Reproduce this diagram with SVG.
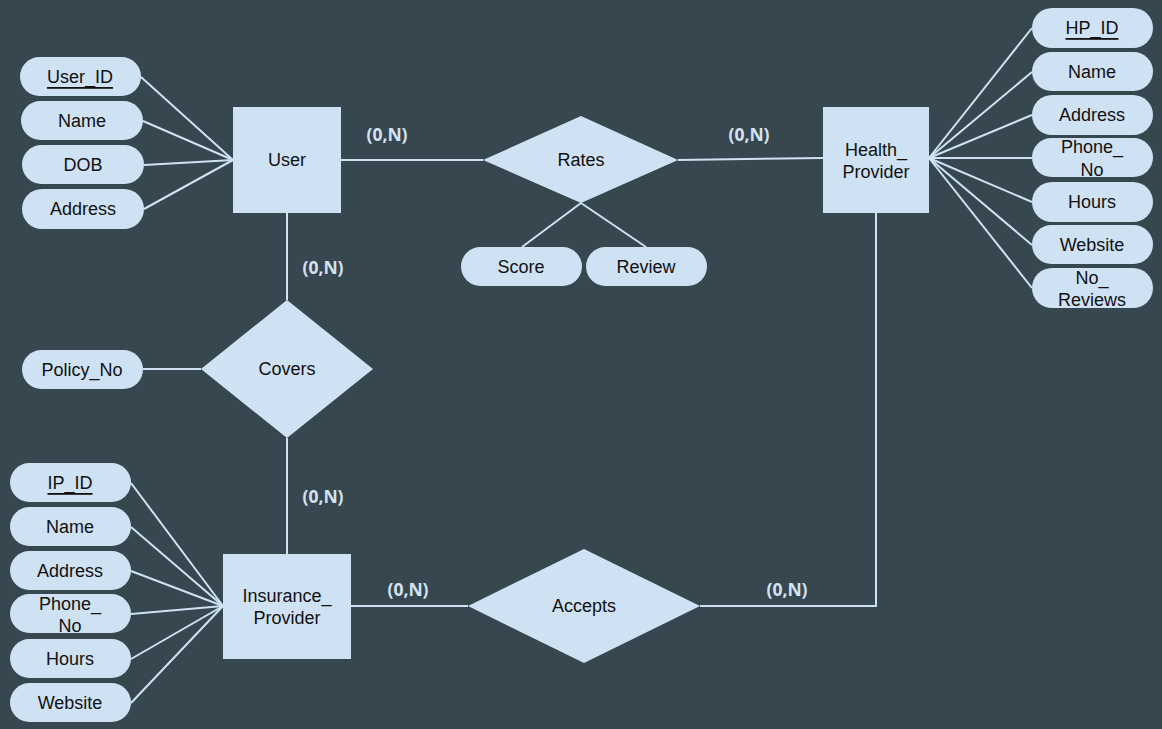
<svg xmlns="http://www.w3.org/2000/svg" width="1162" height="729" viewBox="0 0 1162 729">
<style>
.bg{fill:#37474f}
.ent,.rel,.att{fill:#cfe2f3}
.t{font-family:"Liberation Sans",Arial,sans-serif;font-size:18px;fill:#111;text-anchor:middle;dominant-baseline:central}
.k{text-decoration:underline}
.c{font-family:"Open Sans","Liberation Sans",sans-serif;font-weight:bold;font-size:17.5px;fill:#d3e2f0;text-anchor:middle;dominant-baseline:central}
#connectors line,#connectors polyline{stroke:#cfe2f3;stroke-width:2;fill:none}
</style>
<rect class="bg" x="0" y="0" width="1162" height="729"/>
<g id="connectors">
<line x1="141" y1="77" x2="233" y2="160"/>
<line x1="143" y1="121" x2="233" y2="160"/>
<line x1="144" y1="165" x2="233" y2="160"/>
<line x1="144" y1="209" x2="233" y2="160"/>
<line x1="341" y1="160" x2="483" y2="160"/>
<line x1="678" y1="160" x2="823" y2="158"/>
<line x1="581" y1="203" x2="522" y2="247"/>
<line x1="581" y1="203" x2="646" y2="247"/>
<line x1="929" y1="158" x2="1032" y2="28"/>
<line x1="929" y1="158" x2="1032" y2="72"/>
<line x1="929" y1="158" x2="1032" y2="115"/>
<line x1="929" y1="158" x2="1032" y2="158"/>
<line x1="929" y1="158" x2="1032" y2="202"/>
<line x1="929" y1="158" x2="1032" y2="245"/>
<line x1="929" y1="158" x2="1032" y2="288"/>
<line x1="287" y1="213" x2="287" y2="300"/>
<line x1="287" y1="438" x2="287" y2="554"/>
<line x1="143" y1="369" x2="201" y2="369"/>
<line x1="131" y1="483" x2="223" y2="606"/>
<line x1="131" y1="527" x2="223" y2="606"/>
<line x1="131" y1="571" x2="223" y2="606"/>
<line x1="131" y1="614" x2="223" y2="606"/>
<line x1="131" y1="659" x2="223" y2="606"/>
<line x1="131" y1="703" x2="223" y2="606"/>
<line x1="351" y1="606" x2="468" y2="606"/>
<polyline points="876,213 876,606 700,606"/>
<text class="c" x="387" y="134">(0,N)</text>
<text class="c" x="749" y="134">(0,N)</text>
<text class="c" x="323" y="267">(0,N)</text>
<text class="c" x="323" y="496">(0,N)</text>
<text class="c" x="408" y="589">(0,N)</text>
<text class="c" x="787" y="589">(0,N)</text>
</g>
<g id="user"><rect class="ent" x="233" y="107" width="108" height="106"/><text class="t" x="287" y="160">User</text></g>
<g id="user_id"><rect class="att" x="20" y="57" width="121" height="39" rx="19.5"/><text class="t k" x="80" y="77">User_ID</text></g>
<g id="user_name"><rect class="att" x="21" y="101" width="122" height="39" rx="19.5"/><text class="t" x="82" y="121">Name</text></g>
<g id="user_dob"><rect class="att" x="22" y="145" width="122" height="39" rx="19.5"/><text class="t" x="83" y="165">DOB</text></g>
<g id="user_address"><rect class="att" x="22" y="189" width="122" height="40" rx="20"/><text class="t" x="83" y="209">Address</text></g>
<g id="rates"><polygon class="rel" points="483,160 581,116 678,160 581,203"/><text class="t" x="581" y="160">Rates</text></g>
<g id="score"><rect class="att" x="461" y="247" width="121" height="39" rx="19.5"/><text class="t" x="521" y="267">Score</text></g>
<g id="review"><rect class="att" x="586" y="247" width="121" height="39" rx="19.5"/><text class="t" x="646" y="267">Review</text></g>
<g id="health_provider"><rect class="ent" x="823" y="107" width="106" height="106"/><text class="t" x="876" y="150">Health_</text><text class="t" x="876" y="172">Provider</text></g>
<g id="hp_id"><rect class="att" x="1032" y="8" width="121" height="40" rx="20"/><text class="t k" x="1092" y="28">HP_ID</text></g>
<g id="hp_name"><rect class="att" x="1032" y="52" width="121" height="39" rx="19.5"/><text class="t" x="1092" y="72">Name</text></g>
<g id="hp_address"><rect class="att" x="1032" y="95" width="121" height="40" rx="20"/><text class="t" x="1092" y="115">Address</text></g>
<g id="hp_phone"><rect class="att" x="1032" y="138" width="121" height="39" rx="19.5"/><text class="t" x="1092" y="147">Phone_</text><text class="t" x="1092" y="170">No</text></g>
<g id="hp_hours"><rect class="att" x="1032" y="182" width="121" height="40" rx="20"/><text class="t" x="1092" y="202">Hours</text></g>
<g id="hp_website"><rect class="att" x="1032" y="225" width="121" height="39" rx="19.5"/><text class="t" x="1092" y="245">Website</text></g>
<g id="hp_reviews"><rect class="att" x="1032" y="268" width="121" height="40" rx="20"/><text class="t" x="1092" y="278">No_</text><text class="t" x="1092" y="300">Reviews</text></g>
<g id="covers"><polygon class="rel" points="201,369 287,300 373,369 287,438"/><text class="t" x="287" y="369">Covers</text></g>
<g id="policy_no"><rect class="att" x="22" y="350" width="121" height="39" rx="19.5"/><text class="t" x="82" y="370">Policy_No</text></g>
<g id="insurance_provider"><rect class="ent" x="223" y="554" width="128" height="105"/><text class="t" x="287" y="596">Insurance_</text><text class="t" x="287" y="618">Provider</text></g>
<g id="ip_id"><rect class="att" x="10" y="463" width="121" height="39" rx="19.5"/><text class="t k" x="70" y="483">IP_ID</text></g>
<g id="ip_name"><rect class="att" x="10" y="507" width="121" height="39" rx="19.5"/><text class="t" x="70" y="527">Name</text></g>
<g id="ip_address"><rect class="att" x="10" y="551" width="121" height="39" rx="19.5"/><text class="t" x="70" y="571">Address</text></g>
<g id="ip_phone"><rect class="att" x="10" y="594" width="121" height="39" rx="19.5"/><text class="t" x="70" y="604">Phone_</text><text class="t" x="70" y="626">No</text></g>
<g id="ip_hours"><rect class="att" x="10" y="639" width="121" height="39" rx="19.5"/><text class="t" x="70" y="659">Hours</text></g>
<g id="ip_website"><rect class="att" x="10" y="683" width="121" height="39" rx="19.5"/><text class="t" x="70" y="703">Website</text></g>
<g id="accepts"><polygon class="rel" points="468,606 584,549 700,606 584,663"/><text class="t" x="584" y="606">Accepts</text></g>
</svg>
